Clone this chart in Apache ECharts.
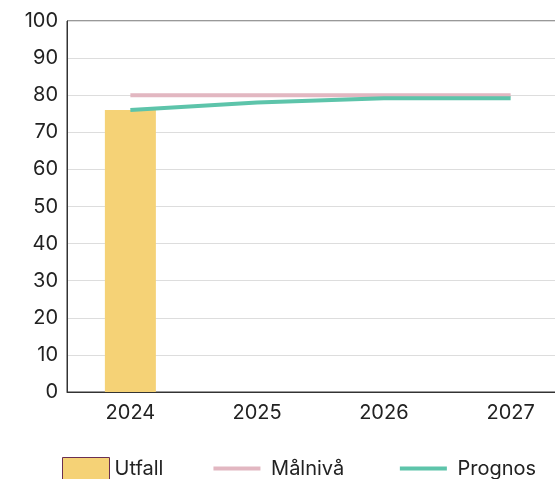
<!DOCTYPE html>
<html><head><meta charset="utf-8">
<script src="https://cdn.jsdelivr.net/npm/echarts@6/dist/echarts.min.js"></script>
<style>html,body{margin:0;padding:0;background:#fff}#c{width:555px;height:479px}</style>
</head><body><div id="c"></div>
<script>
const categories = ['2024', '2025', '2026', '2027'];
const utfall = [76, null, null, null];
const malniva = [80, 80, 80, 80];
const prognos = [76, 78, 79.2, 79.2];
const yTicks = { min: 0, max: 100, interval: 10 };

const font = 'Inter';
const lineIcon = 'path://M0,0h48v4h-48z';
const legendLabels = { 'Utfall': 'Utfall', 'Målnivå': ' Målnivå ', 'Prognos': ' Prognos' };
const chart = echarts.init(document.getElementById('c'));
chart.setOption({
  animation: false,
  grid: { left: 67, top: 21, height: 371, width: 507, outerBoundsMode: 'none', containLabel: false, show: true, borderColor: '#333', borderWidth: 1, backgroundColor: 'transparent' },
  xAxis: {
    type: 'category', data: categories,
    axisLine: { lineStyle: { color: '#333', width: 1 } },
    axisTick: { show: false },
    axisLabel: { color: '#222', fontSize: 20, fontFamily: font, margin: 11 }
  },
  yAxis: {
    type: 'value', min: yTicks.min, max: yTicks.max, interval: yTicks.interval,
    axisLine: { show: true, lineStyle: { color: '#333', width: 1 } },
    axisTick: { show: false },
    splitLine: { lineStyle: { color: '#dddddd', width: 1 } },
    axisLabel: { color: '#222', fontSize: 20, fontFamily: font, margin: 9 }
  },
  legend: {
    top: 457, left: 62, padding: 0, itemGap: 50, itemWidth: 47, itemHeight: 22,
    textStyle: { color: '#222', fontSize: 20, fontFamily: font },
    formatter: name => legendLabels[name],
    data: [
      { name: 'Utfall', icon: 'rect', itemStyle: { borderColor: '#6a2f52', borderWidth: 1 } },
      { name: 'Målnivå', icon: lineIcon, itemStyle: { color: '#E2B7C1' } },
      { name: 'Prognos', icon: lineIcon, itemStyle: { color: '#5DC4AA' } }
    ]
  },
  series: [
    { name: 'Utfall', type: 'bar', data: utfall, barWidth: 51, itemStyle: { color: '#F5D276' } },
    { name: 'Målnivå', type: 'line', data: malniva, symbol: 'none', lineStyle: { color: '#E2B7C1', width: 4 }, itemStyle: { color: '#E2B7C1' } },
    { name: 'Prognos', type: 'line', data: prognos, symbol: 'none', lineStyle: { color: '#5DC4AA', width: 4 }, itemStyle: { color: '#5DC4AA' } }
  ]
});
</script></body></html>
